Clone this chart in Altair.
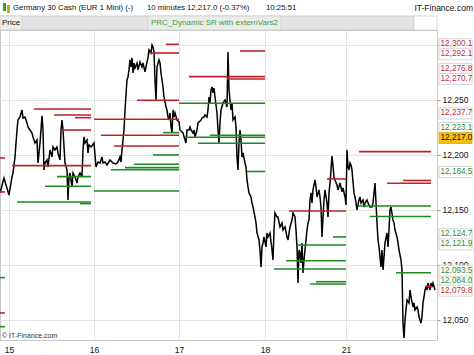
import altair as alt
import pandas as pd

# ---------------- data ----------------
day_start_bars = [9, 94, 179, 265, 346]
day_labels = ["15", "16", "17", "18", "21"]

price_bars = [0, 4, 9, 12, 13, 15, 17, 18, 20, 22, 23, 25, 27, 28, 30, 32, 33, 35, 37, 38, 40, 42, 43, 44, 45, 47, 48,
              50, 52, 53, 55, 57, 58, 60, 61, 62, 63, 65, 67, 68, 69, 70, 72, 73, 75, 77, 78, 80, 82, 83, 84, 85, 87,
              88, 89, 91, 94, 96, 98, 100, 102, 103, 105, 107, 110, 113, 116, 118, 120, 121, 122, 123, 124, 125, 127,
              128, 129, 130, 131, 132, 133, 134, 135, 137, 138, 140, 142, 143, 145, 147, 148, 149, 151, 152, 153, 154,
              155, 156, 157, 159, 160, 161, 162, 163, 164, 166, 167, 168, 169, 170, 171, 172, 173, 174, 175, 177, 179,
              180, 182, 183, 185, 186, 187, 189, 190, 191, 193, 194, 195, 197, 198, 199, 201, 202, 204, 205, 207, 208,
              209, 210, 211, 212, 213, 214, 215, 217, 218, 219, 220, 221, 223, 225, 227, 228, 229, 231, 232, 233, 235,
              236, 237, 238, 239, 240, 241, 242, 243, 245, 246, 247, 248, 249, 251, 252, 253, 255, 256, 257, 259, 260,
              261, 262, 263, 264, 266, 267, 268, 270, 272, 273, 274, 275, 277, 278, 280, 282, 283, 285, 287, 288, 290,
              292, 293, 295, 296, 297, 298, 299, 300, 301, 302, 303, 304, 305, 307, 308, 309, 310, 311, 312, 313, 315,
              316, 317, 319, 320, 321, 322, 323, 324, 325, 327, 328, 329, 330, 331, 332, 333, 334, 335, 337, 338, 340,
              342, 343, 345, 346, 347, 348, 349, 350, 351, 352, 353, 354, 355, 356, 357, 359, 360, 361, 363, 364, 365,
              367, 368, 370, 372, 373, 375, 376, 377, 378, 379, 380, 381, 382, 383, 384, 385, 387, 388, 389, 390, 391,
              393, 394, 395, 397, 398, 399, 401, 402, 403, 404, 405, 406, 407, 409, 410, 411, 413, 414, 415, 417, 418,
              419, 421, 422, 423, 424, 425, 426, 427, 428, 429, 430, 431, 432, 433, 435]
price_values = [12165.5, 12179.1, 12163.6, 12180.0, 12183.6, 12198.2, 12222.7, 12231.8, 12234.5, 12240.9, 12233.6,
                12234.5, 12229.1, 12225.5, 12222.7, 12220.0, 12216.4, 12210.9, 12213.6, 12192.7, 12210.9, 12235.5,
                12222.7, 12186.4, 12192.7, 12195.5, 12189.1, 12204.5, 12198.2, 12207.3, 12204.5, 12207.3, 12201.8,
                12195.5, 12222.7, 12231.8, 12222.7, 12192.7, 12186.4, 12159.1, 12180.0, 12183.6, 12170.9, 12183.6,
                12180.0, 12174.5, 12180.0, 12183.6, 12180.0, 12204.5, 12216.4, 12210.9, 12213.6, 12201.8, 12209.1,
                12207.3, 12210.9, 12189.1, 12193.6, 12192.7, 12198.2, 12192.7, 12193.6, 12190.9, 12195.5, 12192.7,
                12191.8, 12193.6, 12198.2, 12193.6, 12204.5, 12213.6, 12222.7, 12240.9, 12268.2, 12270.9, 12277.3,
                12286.4, 12280.0, 12288.2, 12274.5, 12283.6, 12279.1, 12283.6, 12277.3, 12284.5, 12280.0, 12283.6,
                12275.5, 12284.5, 12288.2, 12295.5, 12292.7, 12300.0, 12298.2, 12293.6, 12268.2, 12250.0, 12280.0,
                12286.4, 12283.6, 12274.5, 12268.2, 12261.8, 12252.7, 12243.6, 12240.9, 12234.5, 12231.8, 12238.2,
                12225.5, 12220.0, 12240.9, 12234.5, 12238.2, 12231.8, 12230.0, 12222.7, 12220.9, 12220.0, 12213.6,
                12210.9, 12222.7, 12222.7, 12225.5, 12222.7, 12220.0, 12222.7, 12216.4, 12222.7, 12229.1, 12230.0,
                12231.8, 12233.6, 12234.5, 12236.4, 12234.5, 12240.9, 12252.7, 12247.3, 12259.1, 12261.8, 12256.4,
                12260.9, 12252.7, 12238.2, 12222.7, 12210.9, 12229.1, 12240.9, 12247.3, 12250.0, 12243.6, 12293.6,
                12259.1, 12240.9, 12247.3, 12231.8, 12234.5, 12225.5, 12198.2, 12186.4, 12210.9, 12222.7, 12213.6,
                12198.2, 12201.8, 12192.7, 12189.1, 12177.3, 12170.9, 12165.5, 12161.8, 12156.4, 12152.7, 12143.6,
                12138.2, 12129.1, 12122.7, 12113.6, 12098.2, 12116.4, 12120.0, 12125.5, 12116.4, 12129.1, 12125.5,
                12129.1, 12113.6, 12104.5, 12131.8, 12147.3, 12143.6, 12143.6, 12134.5, 12138.2, 12131.8, 12134.5,
                12125.5, 12122.7, 12134.5, 12140.9, 12147.3, 12143.6, 12131.8, 12116.4, 12083.6, 12113.6, 12110.9,
                12101.8, 12120.0, 12092.7, 12104.5, 12113.6, 12131.8, 12138.2, 12140.9, 12159.1, 12165.5, 12156.4,
                12168.2, 12177.3, 12170.9, 12161.8, 12168.2, 12161.8, 12152.7, 12125.5, 12143.6, 12159.1, 12168.2,
                12156.4, 12143.6, 12165.5, 12174.5, 12186.4, 12199.1, 12190.0, 12180.0, 12177.3, 12172.7, 12168.2,
                12174.5, 12166.4, 12170.0, 12161.8, 12154.5, 12204.5, 12189.1, 12186.4, 12192.7, 12190.9, 12186.4,
                12175.5, 12165.5, 12161.8, 12156.4, 12150.0, 12159.1, 12161.8, 12156.4, 12159.1, 12152.7, 12156.4,
                12159.1, 12156.4, 12152.7, 12152.7, 12156.4, 12174.5, 12156.4, 12138.2, 12122.7, 12116.4, 12107.3,
                12098.2, 12113.6, 12095.5, 12107.3, 12120.0, 12129.1, 12116.4, 12131.8, 12150.0, 12152.7, 12140.9,
                12138.2, 12131.8, 12125.5, 12120.0, 12113.6, 12104.5, 12095.5, 12047.3, 12033.6, 12050.0, 12059.1,
                12068.2, 12065.5, 12077.3, 12070.9, 12061.8, 12065.5, 12059.1, 12061.8, 12059.1, 12052.7, 12047.3,
                12052.7, 12065.5, 12070.9, 12077.3, 12080.0, 12077.3, 12083.6, 12080.0, 12077.3, 12083.6, 12080.0,
                12083.6, 12077.3]

# support / resistance segments
seg_start = [34, 54, 75, 62, 12, 0, 0, 0, 0, 0, 57, 45, 17, 80,
             166, 149, 137, 94, 101, 114, 163, 153, 134, 125, 111, 94,
             240, 189, 227, 179, 210, 185, 198, 247,
             289, 327, 333, 298, 286, 274, 316, 310,
             359, 403, 387, 358, 370, 396, 426]
seg_end = [91, 91, 91, 91, 91, 5, 5, 5, 5, 5, 91, 91, 91, 91,
           179, 179, 179, 179, 179, 179, 179, 179, 179, 179, 179, 179,
           265, 265, 265, 265, 265, 265, 265, 265,
           346, 346, 346, 346, 346, 346, 346, 346,
           431, 431, 431, 431, 431, 431, 432]
seg_level = [12241.8, 12236.4, 12233.9, 12222.7, 12190.3, 12197.3, 12166.4, 12056.4, 12088.5, 12043.9,
             12180.3, 12171.5, 12157.3, 12155.8,
             12300.6, 12292.7, 12249.7, 12232.5, 12217.9, 12208.2, 12220.3, 12200.0, 12191.5, 12188.5,
             12186.6, 12167.3,
             12294.5, 12271.2, 12269.1, 12247.0, 12217.9, 12216.1, 12210.6, 12185.0,
             12149.1, 12178.2, 12125.5, 12118.2, 12103.9, 12096.4, 12084.8, 12082.7,
             12203.0, 12176.8, 12174.3, 12153.6, 12144.1, 12092.9, 12080.5]
seg_kind = ["R", "R", "R", "R", "R", "R", "R", "R", "G", "G", "G", "G", "G", "G",
            "R", "R", "R", "R", "R", "R", "G", "G", "G", "G", "G", "G",
            "R", "R", "R", "G", "G", "G", "G", "G",
            "R", "R", "G", "G", "G", "G", "G", "G",
            "R", "R", "R", "G", "G", "G", "R"]

# boxed price labels on the right axis (draw order)
label_values = [12084.0, 12300.1, 12292.1, 12276.8, 12270.7, 12237.7, 12223.1, 12217.0,
                12184.5, 12124.7, 12121.9, 12093.5, 12079.8]
label_kind = ["G", "R", "R", "R", "R", "R", "G", "Y", "G", "G", "G", "G", "R"]

axis_values = [12050, 12100, 12150, 12200, 12250, 12300]
hidden_axis_labels = [12300]   # covered by the 12,300.1 tag in the original

# ---------------- layout ----------------
W, H = 437, 310
Y_MIN, Y_MAX = 12031.8, 12313.6
PX_PER_PT = H / (Y_MAX - Y_MIN)
FONT = "Liberation Sans"
RED, GREEN = "#c0222b", "#1f8a24"
LRED, LGREEN = "#b5303e", "#2f8f33"

xscale = alt.Scale(domain=[0, W], nice=False, zero=False)
yscale = alt.Scale(domain=[Y_MIN, Y_MAX], nice=False, zero=False)

label_expr = " : ".join(f"datum.value == {b} ? '{l}'" for b, l in zip(day_start_bars, day_labels)) + " : ''"
y_label_expr = " || ".join(f"datum.value == {v}" for v in hidden_axis_labels) + " ? '' : datum.label"

x_axis = alt.Axis(values=day_start_bars, labelExpr=label_expr, grid=True, gridColor="#e3e3e3",
                  domain=False, ticks=False, labelFontSize=8.5, labelFont=FONT, labelColor="#111",
                  labelPadding=5, title=None, labelFlush=False)
y_axis = alt.Axis(orient="right", values=axis_values, format=",.0f", labelExpr=y_label_expr, grid=True,
                  gridColor="#e3e3e3", domain=False, tickSize=3, tickColor="#999999", labelFontSize=8.5,
                  labelFont=FONT, labelColor="#111", labelPadding=2, title=None)

price_df = pd.DataFrame({"bar": price_bars, "price": price_values})
seg_df = pd.DataFrame({"s": seg_start, "e": seg_end, "lvl": seg_level, "kind": seg_kind})

# de-collide label positions (like the platform stacks overlapping tags)
gap = 10.0 / PX_PER_PT
order = sorted(range(len(label_values)), key=lambda i: -label_values[i])
pos = {i: label_values[i] for i in order}
for _ in range(300):
    for a, b in zip(order[:-1], order[1:]):
        d = pos[a] - pos[b]
        if d < gap:
            s = (gap - d) / 2
            pos[a] += s
            pos[b] -= s
half = 5.5 / PX_PER_PT

dummy = pd.DataFrame({"a": [0]})

layers = []

# header band
layers.append(alt.Chart(dummy).mark_rect(fill="#e4e4e4", stroke="#c8c8c8", strokeWidth=0.8).encode(
    x=alt.value(0), x2=alt.value(414), y=alt.value(-14), y2=alt.value(0)))
layers.append(alt.Chart(dummy).mark_rect(fill="#ededed", stroke="#cfcfcf", strokeWidth=0.8).encode(
    x=alt.value(0), x2=alt.value(22), y=alt.value(-14), y2=alt.value(0)))
layers.append(alt.Chart(dummy).mark_rect(fill="#ececec", stroke="#cfcfcf", strokeWidth=0.8).encode(
    x=alt.value(148), x2=alt.value(281), y=alt.value(-14), y2=alt.value(0)))
layers.append(alt.Chart(dummy).mark_rect(fill="#ffffff", stroke="#cfcfcf", strokeWidth=0.8).encode(
    x=alt.value(414), x2=alt.value(437), y=alt.value(-14), y2=alt.value(0)))
# tiny icon
layers.append(alt.Chart(dummy).mark_rect(fill="#3a9a3a").encode(
    x=alt.value(3), x2=alt.value(6), y=alt.value(-27), y2=alt.value(-19)))
layers.append(alt.Chart(dummy).mark_rect(fill="#d8a020").encode(
    x=alt.value(7), x2=alt.value(10), y=alt.value(-25), y2=alt.value(-17)))


def txt(s, x, y, color="#111111", size=8.5, align="left"):
    return alt.Chart(dummy).mark_text(align=align, baseline="middle", font=FONT, fontSize=size,
                                      color=color).encode(x=alt.value(x), y=alt.value(y), text=alt.value(s))


layers += [
    txt("Germany 30 Cash (EUR 1 Mini) (-)", 13, -22, size=7.8),
    txt("10 minutes", 147, -22, size=7.8),
    txt("12,217.0 (-0.37%)", 187, -22, size=7.8),
    txt("10:25:51", 266, -22, size=7.8),
    txt("IT-Finance.com", 473, -22, align="right"),
    txt("Price", 2, -7, size=8),
    txt("PRC_Dynamic SR with externVars2", 151, -7, color="#3c9c3c", size=8),
]

# price line
layers.append(alt.Chart(price_df).mark_line(color="#000000", strokeWidth=1.5, strokeJoin="miter").encode(
    x=alt.X("bar:Q", scale=xscale, axis=x_axis),
    y=alt.Y("price:Q", scale=yscale, axis=y_axis)))

# S/R segments
layers.append(alt.Chart(seg_df).mark_rule(strokeWidth=1.6).encode(
    x=alt.X("s:Q", scale=xscale, axis=x_axis), x2="e:Q",
    y=alt.Y("lvl:Q", scale=yscale, axis=y_axis),
    color=alt.Color("kind:N", scale=alt.Scale(domain=["R", "G"], range=[RED, GREEN]), legend=None)))

# boxed labels
for i, (v, k) in enumerate(zip(label_values, label_kind)):
    p = pos[i]
    d = pd.DataFrame({"v": [v], "p": [p], "top": [p + half], "bot": [p - half],
                      "t": [f"{v:,.1f}"]})
    fill = "#f5c10e" if k == "Y" else "#ffffff"
    stroke = "#d2a400" if k == "Y" else "#c9c9c9"
    tcol = "#111111" if k == "Y" else (LRED if k == "R" else LGREEN)
    layers.append(alt.Chart(d).mark_rect(fill=fill, stroke=stroke, strokeWidth=0.8).encode(
        x=alt.value(W + 2), x2=alt.value(W + 35),
        y=alt.Y("top:Q", scale=yscale, axis=y_axis), y2="bot:Q"))
    layers.append(alt.Chart(d).mark_text(align="left", baseline="middle", font=FONT, fontSize=8.2,
                                         color=tcol).encode(
        x=alt.value(W + 3.5), y=alt.Y("p:Q", scale=yscale, axis=y_axis), text="t:N"))

layers.append(txt("© IT-Finance.com", 2, H - 4, color="#333333", size=7))

chart = alt.layer(*layers).properties(
    width=W, height=H,
    padding={"left": 0, "top": 30, "right": 37, "bottom": 15},
    autosize=alt.AutoSizeParams(type="none"),
    background="#ffffff",
).configure_view(stroke="#c8c8c8", strokeWidth=1)

chart.save("out.html", embed_options={"renderer": "svg", "actions": False})
